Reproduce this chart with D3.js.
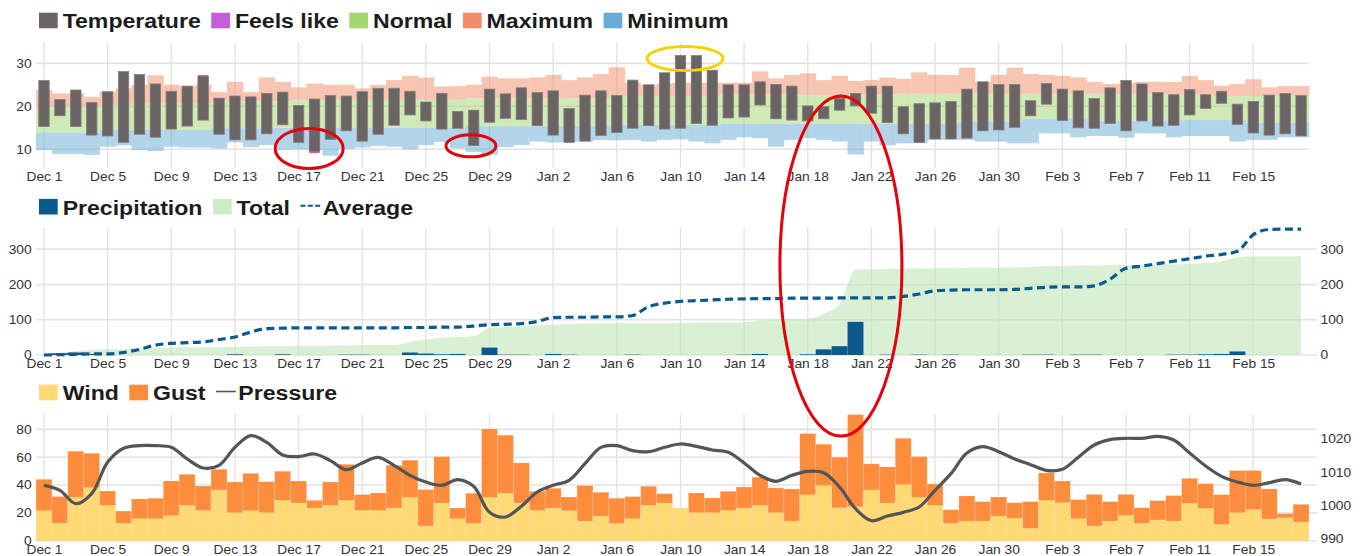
<!DOCTYPE html>
<meta charset='utf-8'>
<head>
    <title>Weather</title>
    <script src='https://cdn.jsdelivr.net/npm/d3@7'></script>
</head>

<style>
    body { margin: 0; background: #fff; }
    svg { display: block; font-family: 'Liberation Sans', Arial, sans-serif; }
    .grid line { stroke: #e3e3e3; stroke-width: 1.6px; }
    .legend text { font-size: 21px; font-weight: bold; fill: #1c1c1c; }
</style>

<svg width='1366' height='556'></svg>

<script>

    // daily values, Dec 1 .. Feb 18
    var tempHigh = [26.0, 21.6, 23.8, 20.9, 23.4, 28.1, 27.4, 25.2, 23.5, 24.7, 27.0, 21.9, 22.4, 22.2, 23.0, 23.3, 20.2, 21.7, 22.5, 22.4, 23.4, 24.2, 24.2, 23.5, 21.0, 23.0, 18.8, 19.1, 24.0, 22.9, 24.3,
        23.2, 23.6, 19.5, 22.6, 23.6, 22.5, 26.1, 25.0, 27.8, 31.8, 31.8, 28.4, 25.0, 25.0, 25.7, 25.1, 24.7, 20.1, 19.9, 21.9, 23.0, 24.7, 24.7, 19.9, 20.6, 20.8, 21.1, 24.0, 25.7, 25.1, 25.1,
        21.3, 25.3, 24.0, 23.6, 21.8, 24.3, 26.0, 25.2, 23.2, 22.7, 23.9, 22.7, 23.5, 20.5, 21.1, 22.6, 23.0, 22.5];
    var tempLow = [15.3, 17.8, 15.3, 13.3, 13.1, 11.6, 13.5, 12.8, 14.7, 15.4, 16.8, 13.5, 12.2, 12.2, 13.6, 15.7, 11.6, 9.5, 12.3, 14.3, 11.9, 13.5, 15.6, 18.0, 16.6, 14.7, 14.9, 10.9, 16.3, 17.2, 16.9,
        15.5, 13.3, 11.6, 11.9, 13.2, 13.9, 14.9, 15.5, 14.7, 14.9, 16.0, 15.6, 17.3, 17.5, 20.3, 17.1, 16.8, 16.6, 17.1, 19.1, 20.1, 18.4, 16.2, 13.6, 11.6, 12.4, 12.4, 12.6, 14.3, 14.5, 15.1,
        17.8, 20.5, 16.7, 15.0, 14.9, 16.0, 14.3, 16.6, 15.4, 15.6, 18.0, 19.5, 20.7, 15.8, 13.8, 13.3, 13.6, 13.1];
    // feels like, only where it differs from the temperature
    var feelsLike = [
        {day: '2018-12-11', low: 16.8, high: 27.3},
        {day: '2018-12-18', low: 9.1, high: 21.7}
    ];
    // band edges: maximum top, maximum bottom (= normal top), minimum top (= normal bottom), minimum bottom
    var maxTop = [23.8, 23.0, 23.0, 22.2, 23.4, 24.2, 25.0, 27.2, 25.0, 24.7, 25.0, 23.3, 25.7, 23.3, 26.7, 25.7, 24.4, 25.3, 25.0, 25.0, 24.2, 25.0, 26.1, 27.1, 26.7, 24.6, 24.7, 25.0, 26.9, 26.5, 26.5,
        26.7, 27.3, 26.1, 26.7, 27.5, 29.1, 25.5, 25.0, 25.3, 25.5, 25.5, 25.5, 25.5, 25.5, 28.1, 26.5, 27.3, 27.7, 26.1, 27.1, 25.9, 26.1, 26.7, 26.4, 27.9, 27.3, 27.3, 29.0, 25.7, 27.3, 29.0,
        27.5, 27.3, 27.1, 26.7, 25.7, 25.2, 25.3, 25.7, 25.7, 25.7, 27.1, 26.1, 24.8, 25.2, 26.3, 24.4, 24.7, 24.7];
    var maxBottom = [19.9, 19.9, 19.9, 19.9, 20.2, 20.2, 20.6, 20.6, 20.6, 20.6, 20.6, 21.1, 21.1, 21.1, 21.1, 21.1, 21.5, 21.5, 21.5, 21.5, 21.5, 21.5, 21.5, 21.5, 21.5, 21.5, 21.5, 21.9, 21.9, 21.9, 21.9,
        21.9, 21.9, 21.9, 21.9, 21.9, 22.2, 22.2, 22.2, 22.2, 22.2, 22.2, 22.2, 22.6, 22.6, 22.6, 22.6, 22.6, 22.6, 22.6, 22.6, 22.6, 22.6, 22.6, 22.9, 22.9, 22.9, 22.9, 22.9, 22.9, 22.9, 22.9,
        22.9, 22.9, 22.9, 22.9, 22.9, 22.7, 22.7, 22.7, 22.7, 22.7, 22.7, 22.7, 22.4, 22.4, 22.4, 22.4, 22.4, 22.4];
    var minTop = [13.9, 13.9, 13.9, 13.9, 14.5, 14.5, 14.5, 14.5, 14.5, 14.5, 14.5, 14.9, 14.9, 14.9, 14.9, 15.0, 15.0, 15.0, 15.0, 15.0, 15.0, 15.0, 15.0, 15.0, 15.0, 15.0, 15.0, 15.4, 15.4, 15.4, 15.4,
        15.4, 15.4, 15.4, 15.4, 15.4, 15.7, 15.7, 15.7, 15.7, 15.7, 15.7, 15.7, 16.0, 16.0, 16.0, 16.0, 16.0, 16.0, 16.0, 16.0, 16.0, 16.0, 16.0, 15.9, 15.9, 15.9, 15.9, 16.4, 16.4, 16.4, 16.4,
        17.1, 17.1, 17.1, 17.1, 16.7, 16.7, 16.7, 16.7, 16.7, 16.7, 16.8, 16.8, 16.8, 16.8, 16.2, 16.2, 16.2, 16.2];
    var minBottom = [9.8, 8.9, 8.9, 8.7, 10.6, 10.9, 9.8, 9.6, 10.6, 10.4, 10.4, 10.2, 11.6, 10.5, 11.0, 9.9, 10.0, 9.8, 8.5, 10.1, 10.4, 10.8, 10.6, 10.0, 11.0, 11.7, 10.2, 9.4, 8.7, 10.5, 11.0,
        11.8, 11.6, 11.7, 11.8, 12.2, 12.1, 12.2, 11.8, 12.2, 12.3, 11.8, 11.4, 12.2, 12.8, 12.6, 10.6, 12.2, 12.6, 12.2, 11.8, 8.8, 11.8, 10.9, 11.4, 11.4, 12.2, 12.2, 12.2, 11.8, 11.8, 11.4,
        11.4, 13.7, 13.7, 12.8, 13.1, 13.1, 12.7, 13.7, 13.7, 12.8, 13.1, 13.1, 13.1, 11.8, 12.2, 12.2, 12.8, 12.8];

    var precip = [0, 5, 7, 3, 0, 0, 0, 0, 0, 0, 0, 0, 2, 0, 0, 2, 0, 0, 0, 1, 1, 0, 0, 7, 4, 2, 3, 0, 21, 1, 1,
        0, 3, 1, 0, 0, 0, 1, 0, 0, 0, 0, 0, 0, 1, 3, 0, 0, 2, 16, 25, 94, 0, 1, 0, 1, 0, 1, 0, 0, 0, 0,
        1, 1, 0, 1, 1, 0, 0, 0, 0, 1, 1, 2, 3, 10, 0, 0, 0, 0];
    var precipTotal = [0, 5, 11, 14, 16, 17, 19, 20, 21, 21, 22, 22, 23, 24, 24, 25, 26, 26, 27, 27, 28, 28, 28, 37, 44, 49, 51, 53, 77, 79, 81,
        84, 86, 88, 89, 90, 91, 91, 91, 91, 91, 92, 92, 92, 93, 98, 100, 102, 103, 117, 145, 242, 243, 244, 245, 245, 246, 246, 247, 247, 248, 249,
        250, 252, 253, 254, 254, 255, 255, 256, 256, 257, 258, 261, 266, 277, 280, 280, 280, 280];
    var precipAverage = [0, 1, 2, 3, 3, 7, 16, 28, 33, 35, 37, 44, 51, 65, 75, 76, 77, 77, 77, 77, 77, 77, 77, 78, 78, 79, 79, 82, 86, 87, 89,
        95, 106, 107, 107, 108, 108, 112, 137, 147, 152, 154, 156, 158, 159, 160, 160, 161, 161, 161, 162, 162, 162, 162, 166, 173, 182, 184, 185, 185, 185, 186,
        189, 192, 193, 193, 196, 215, 246, 252, 259, 266, 273, 280, 285, 294, 341, 356, 357, 357];

    var wind = [21.6, 12.5, 31.2, 38.1, 25.4, 12.5, 15.8, 15.8, 18.0, 25.4, 21.8, 36.5, 20.1, 21.6, 20.1, 29.0, 27.1, 23.5, 25.4, 29.0, 21.8, 21.8, 23.5, 31.2, 10.6, 27.1, 15.8, 12.5, 31.2, 34.1, 27.1,
        21.8, 23.5, 21.6, 14.1, 17.7, 12.5, 15.8, 25.4, 27.1, 23.5, 20.1, 20.1, 21.8, 23.5, 25.4, 20.1, 14.1, 32.9, 39.6, 23.7, 24.5, 36.5, 27.1, 40.3, 31.2, 25.4, 12.5, 14.1, 14.1, 17.7, 16.1,
        8.9, 29.0, 27.3, 15.8, 10.6, 14.1, 18.2, 12.5, 14.9, 14.1, 26.9, 23.3, 11.8, 20.1, 22.3, 15.6, 16.5, 13.4];
    var gust = [44.1, 31.7, 64.3, 62.8, 35.7, 21.3, 30.0, 30.5, 42.9, 47.7, 39.3, 51.3, 42.2, 48.4, 42.4, 49.9, 42.9, 29.0, 42.2, 54.9, 33.1, 34.3, 54.2, 57.8, 36.7, 60.4, 23.5, 34.1, 80.3, 75.8, 55.9,
        35.5, 37.6, 31.4, 39.6, 34.8, 30.5, 31.7, 39.1, 33.8, 23.5, 34.3, 30.7, 35.5, 38.6, 45.6, 37.9, 37.2, 77.0, 69.3, 60.0, 90.6, 55.2, 53.0, 73.6, 60.4, 40.8, 22.3, 32.1, 28.1, 31.4, 27.3,
        28.1, 48.7, 42.9, 29.5, 33.3, 28.1, 33.3, 23.7, 28.8, 32.4, 44.8, 41.0, 33.1, 50.4, 50.4, 37.2, 19.4, 26.1];
    var pressure = [1006.1, 1004.6, 1000.6, 1003.6, 1013.0, 1017.2, 1018.0, 1018.0, 1017.5, 1014.0, 1011.3, 1012.1, 1017.5, 1021.0, 1019.0, 1015.2, 1014.7, 1015.5, 1013.5, 1010.8, 1012.8, 1014.5, 1012.1, 1009.1, 1007.1, 1006.1, 1007.8, 1005.8, 998.0, 996.6, 999.8,
        1004.1, 1006.1, 1007.6, 1012.6, 1017.5, 1018.0, 1016.5, 1016.2, 1017.5, 1018.5, 1017.8, 1016.7, 1016.0, 1012.8, 1009.1, 1007.3, 1009.1, 1010.3, 1009.9, 1005.6, 999.1, 995.5, 996.9, 998.0, 999.6, 1004.6, 1009.6, 1015.8, 1017.7, 1016.2, 1014.0,
        1012.3, 1010.6, 1010.9, 1014.5, 1018.2, 1019.8, 1020.2, 1020.2, 1020.8, 1019.7, 1015.8, 1011.9, 1008.8, 1007.1, 1006.1, 1006.9, 1007.8, 1006.5];

    // axis ticks
    var tempTicks = [10, 20, 30];
    var precipTicks = [0, 100, 200, 300];
    var windTicks = [0, 20, 40, 60, 80];
    var pressureTicks = [990, 1000, 1010, 1020];

    // hand drawn rings on the picture
    var notes = [
        {day: '2018-12-18', hour: 4, panel: 'temp', value: 10.2, rx: 34, ry: 20, color: '#e5000c'},
        {day: '2018-12-28', hour: 8, panel: 'temp', value: 10.8, rx: 25, ry: 11, color: '#e5000c'},
        {day: '2019-01-11', hour: -5, panel: 'temp', value: 31.1, rx: 38, ry: 12, color: '#f3d400'},
        {day: '2019-01-20', hour: 14, panel: 'precip', value: 252, rx: 61, ry: 170, color: '#e5000c'}
    ];

    var parse = d3.utcParse('%Y-%m-%d');
    var firstDay = parse('2018-12-01');
    var endDay = parse('2019-02-19');
    var days = d3.utcDay.range(firstDay, endDay);
    function noon(d) { return d3.utcHour.offset(d, 12); }
    var tickDays = days.filter(function (d, i) { return i % 4 === 0; }).map(noon);

    var svg = d3.select('svg');

    // scales
    var x = d3.scaleUtc().domain([firstDay, endDay]).range([36, 1309]);
    var dayW = x(days[1]) - x(days[0]);
    var yT = d3.scaleLinear().domain([5.65, 34.8]).range([168, 42.7]);
    var yP = d3.scaleLinear().domain([0, 360]).range([355, 228]);
    var yW = d3.scaleLinear().domain([0, 90.8]).range([540.7, 414.3]);
    var yPr = d3.scaleLinear().domain([989.5, 1027.4]).range([540.7, 414.3]);

    function grid(yScale, values, right, top, bottom) {
        var g = svg.append('g').attr('class', 'grid');
        g.selectAll('line.h').data(values).enter().append('line').attr('class', 'h')
            .attr('x1', 36).attr('x2', right)
            .attr('y1', function (d) { return yScale(d); })
            .attr('y2', function (d) { return yScale(d); });
        g.selectAll('line.v').data(tickDays).enter().append('line').attr('class', 'v')
            .attr('x1', function (d) { return x(d); }).attr('x2', function (d) { return x(d); })
            .attr('y1', top).attr('y2', bottom)
            .style('stroke-width', '1.4px');
    }

    function tidy(g) {
        g.attr('font-size', 12).attr('font-family', null).attr('color', '#333');
        g.select('.domain').remove();
        g.selectAll('.tick line').remove();
        g.selectAll('text').attr('transform', 'scale(1.15,1)');
    }

    function bottomAxis(y0, pad) {
        svg.append('g').attr('transform', 'translate(0,' + y0 + ')')
            .call(d3.axisBottom(x).tickValues(tickDays).tickFormat(d3.utcFormat('%b %-d')).tickSize(0).tickPadding(pad))
            .call(tidy);
    }
    function leftAxis(scale, values) {
        svg.append('g').attr('transform', 'translate(31.7,0)')
            .call(d3.axisLeft(scale).tickValues(values).tickFormat(d3.format('d')).tickSize(0).tickPadding(0))
            .call(tidy);
    }
    function rightAxis(scale, values) {
        svg.append('g').attr('transform', 'translate(1320.5,0)')
            .call(d3.axisRight(scale).tickValues(values).tickFormat(d3.format('d')).tickSize(0).tickPadding(0))
            .call(tidy);
    }

    function legend(baseline, items) {
        var g = svg.append('g').attr('class', 'legend')
            .attr('transform', 'translate(39,' + baseline + ') scale(1.1,1)');
        var cx = 0;
        items.forEach(function (it) {
            if (it.line) {
                g.append('line').attr('x1', cx).attr('x2', cx + 18).attr('y1', -8.8).attr('y2', -8.8)
                    .attr('stroke', it.color).attr('stroke-width', it.dash ? 2 : 1.6)
                    .attr('stroke-dasharray', it.dash ? '4.5,2.2' : null);
                cx += 20.3;
            } else {
                g.append('rect').attr('x', cx).attr('y', -15.6).attr('width', 17).attr('height', 15.6)
                    .attr('fill', it.color).attr('opacity', it.opacity || 1);
                cx += 21.5;
            }
            var t = g.append('text').attr('x', cx).text(it.label);
            cx += t.node().getComputedTextLength() + 9.5;
        });
    }

    // ---------- temperature ----------
    grid(yT, tempTicks, 1309, 42.7, 168);

    var bands = svg.append('g').attr('opacity', 0.5);
    var bandDefs = [
        {top: maxTop, bottom: maxBottom, color: '#f08c67'},
        {top: maxBottom, bottom: minTop, color: '#a3d76d'},
        {top: minTop, bottom: minBottom, color: '#67acd6'}
    ];
    bandDefs.forEach(function (b) {
        bands.append('g').selectAll('rect').data(days).enter().append('rect')
            .attr('x', function (d) { return x(d); })
            .attr('width', dayW + 0.4)
            .attr('y', function (d, i) { return yT(b.top[i]); })
            .attr('height', function (d, i) { return yT(b.bottom[i]) - yT(b.top[i]); })
            .attr('fill', b.color);
    });

    svg.append('g').selectAll('rect').data(feelsLike).enter().append('rect')
        .attr('x', function (d) { return x(parse(d.day)) + 2.8; })
        .attr('width', 10.4)
        .attr('y', function (d) { return yT(d.high); })
        .attr('height', function (d) { return yT(d.low) - yT(d.high); })
        .attr('fill', '#c55fd7');

    svg.append('g').selectAll('rect').data(days).enter().append('rect')
        .attr('x', function (d) { return x(d) + 2.8; })
        .attr('width', 10.4)
        .attr('y', function (d, i) { return yT(tempHigh[i]); })
        .attr('height', function (d, i) { return yT(tempLow[i]) - yT(tempHigh[i]); })
        .attr('fill', '#6b6464')
        .attr('stroke', '#857d7d').attr('stroke-width', 0.8);

    leftAxis(yT, tempTicks);
    bottomAxis(168, 4.2);
    legend(28.3, [
        {label: 'Temperature', color: '#6b6464'},
        {label: 'Feels like', color: '#c55fd7'},
        {label: 'Normal', color: '#a3d76d'},
        {label: 'Maximum', color: '#f08c67'},
        {label: 'Minimum', color: '#67acd6'}
    ]);

    // ---------- precipitation ----------
    grid(yP, precipTicks, 1317, 228, 356);

    svg.append('path').datum(days)
        .attr('d', d3.area().curve(d3.curveMonotoneX)
            .x(function (d) { return x(noon(d)); })
            .y0(yP(0))
            .y1(function (d, i) { return yP(precipTotal[i]); }))
        .attr('fill', '#c2e6b8').attr('opacity', 0.6);

    svg.append('g').selectAll('rect').data(days).enter().append('rect')
        .attr('x', function (d) { return x(d); })
        .attr('width', dayW)
        .attr('y', function (d, i) { return yP(precip[i]); })
        .attr('height', function (d, i) { return yP(0) - yP(precip[i]); })
        .attr('fill', '#0b5a8e');

    svg.append('path').datum(days)
        .attr('d', d3.line().curve(d3.curveMonotoneX)
            .x(function (d) { return x(noon(d)); })
            .y(function (d, i) { return yP(precipAverage[i]); }))
        .attr('fill', 'none').attr('stroke', '#0b5a8e').attr('stroke-width', 3.2)
        .attr('stroke-dasharray', '8,4.5');

    leftAxis(yP, precipTicks);
    rightAxis(yP, precipTicks);
    bottomAxis(355, 4.2);
    legend(214.5, [
        {label: 'Precipitation', color: '#0b5a8e'},
        {label: 'Total', color: '#c2e6b8', opacity: 0.8},
        {label: 'Average', color: '#0b5a8e', line: true, dash: true}
    ]);

    // ---------- wind ----------
    grid(yW, windTicks, 1317, 414.3, 541.5);

    svg.append('g').selectAll('rect').data(days).enter().append('rect')
        .attr('x', function (d) { return x(d); })
        .attr('width', dayW)
        .attr('y', function (d, i) { return yW(gust[i]); })
        .attr('height', function (d, i) { return yW(0) - yW(gust[i]); })
        .attr('fill', '#fd8d3c')
        .attr('stroke', '#fff').attr('stroke-opacity', 0.25).attr('stroke-width', 0.6);

    svg.append('g').selectAll('rect').data(days).enter().append('rect')
        .attr('x', function (d) { return x(d); })
        .attr('width', dayW)
        .attr('y', function (d, i) { return yW(wind[i]); })
        .attr('height', function (d, i) { return yW(0) - yW(wind[i]); })
        .attr('fill', '#fed976')
        .attr('stroke', '#fff').attr('stroke-opacity', 0.25).attr('stroke-width', 0.6);

    svg.append('path').datum(days)
        .attr('d', d3.line().curve(d3.curveCatmullRom.alpha(0.5))
            .x(function (d) { return x(noon(d)); })
            .y(function (d, i) { return yPr(pressure[i]); }))
        .attr('fill', 'none').attr('stroke', '#555').attr('stroke-width', 3.2);

    leftAxis(yW, windTicks);
    rightAxis(yPr, pressureTicks);
    bottomAxis(540.7, 5);
    legend(400.3, [
        {label: 'Wind', color: '#fed976'},
        {label: 'Gust', color: '#fd8d3c'},
        {label: 'Pressure', color: '#555', line: true}
    ]);

    // ---------- rings ----------
    var panelScale = {temp: yT, precip: yP};
    svg.append('g').selectAll('ellipse').data(notes).enter().append('ellipse')
        .attr('cx', function (d) { return x(d3.utcHour.offset(parse(d.day), d.hour)); })
        .attr('cy', function (d) { return panelScale[d.panel](d.value); })
        .attr('rx', function (d) { return d.rx; })
        .attr('ry', function (d) { return d.ry; })
        .attr('fill', 'none')
        .attr('stroke', function (d) { return d.color; })
        .attr('stroke-width', 3);

</script>
